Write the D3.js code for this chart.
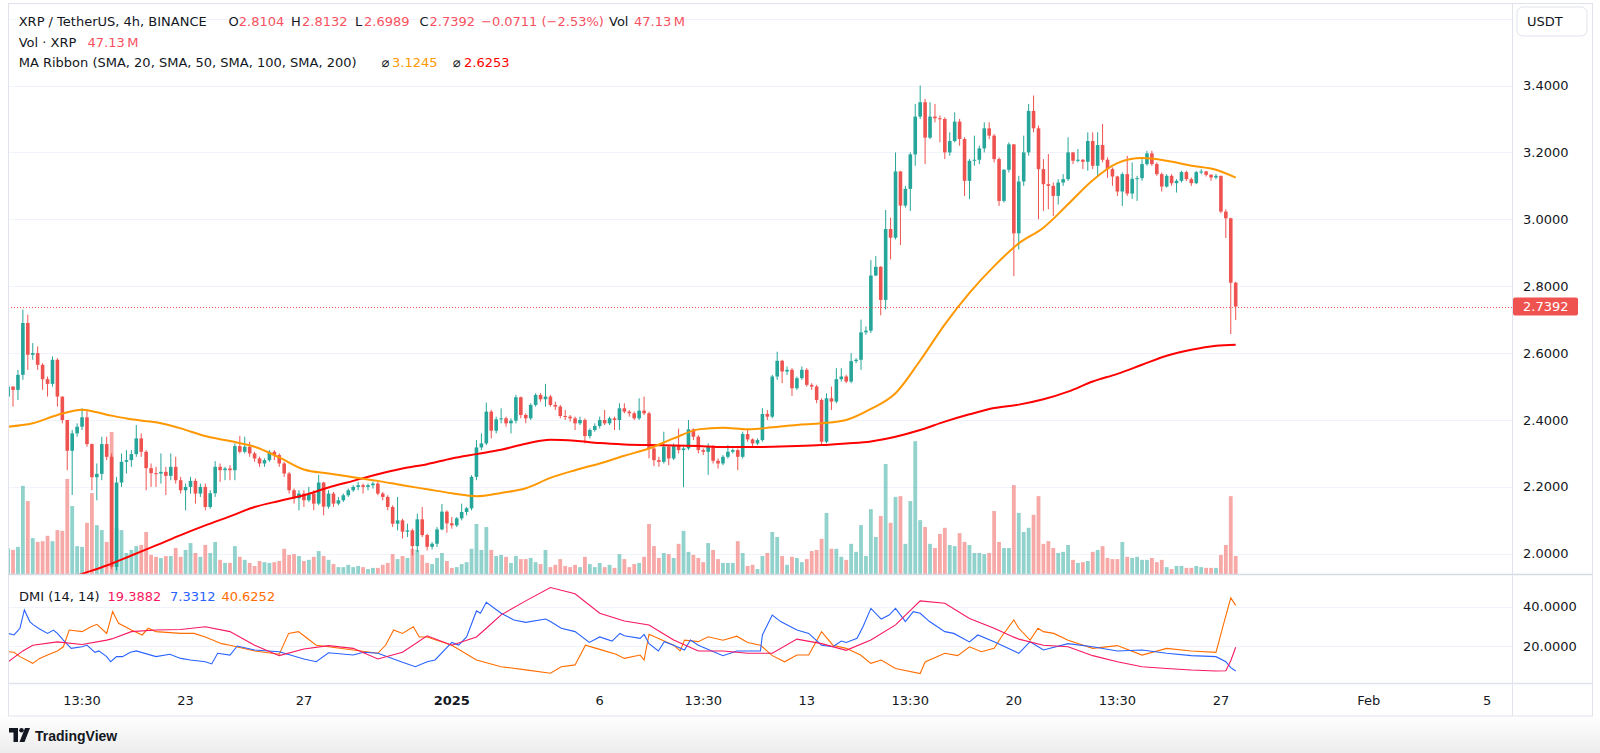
<!DOCTYPE html>
<html>
<head>
<meta charset="utf-8">
<script src="https://cdn.jsdelivr.net/npm/d3@7"></script>
<style>
  body { margin: 0; background: #fff; }
  svg { display: block; font-family: "DejaVu Sans", "Liberation Sans", Arial, sans-serif; }
</style>
</head>
<body>
<svg id="chart" width="1600" height="753"></svg>
<script>
// ---- data (XRP/USDT 4h, bar index 0..249) ----
const firstOpen = 2.47;
const closes = [
  2.50,2.49,2.535,2.69,2.595,2.60,2.565,2.522,2.508,2.58,
  2.47,2.40,2.308,2.36,2.38,2.408,2.328,2.229,2.239,2.328,
  2.29,1.961,2.213,2.275,2.28,2.298,2.345,2.305,2.256,2.241,
  2.24,2.245,2.233,2.26,2.22,2.19,2.20,2.218,2.18,2.20,
  2.14,2.181,2.26,2.25,2.255,2.25,2.322,2.305,2.32,2.30,
  2.285,2.27,2.28,2.305,2.295,2.27,2.24,2.19,2.166,2.18,
  2.16,2.18,2.15,2.213,2.141,2.18,2.15,2.16,2.175,2.19,
  2.20,2.205,2.20,2.205,2.21,2.18,2.17,2.14,2.09,2.10,
  2.066,2.07,2.023,2.103,2.056,2.021,2.03,2.073,2.126,2.091,
  2.085,2.106,2.125,2.136,2.23,2.318,2.33,2.425,2.368,2.402,
  2.405,2.39,2.398,2.468,2.415,2.405,2.445,2.475,2.462,2.47,
  2.445,2.44,2.412,2.41,2.405,2.39,2.40,2.352,2.37,2.382,
  2.40,2.39,2.405,2.40,2.435,2.425,2.42,2.405,2.428,2.42,
  2.315,2.28,2.275,2.32,2.285,2.325,2.31,2.315,2.372,2.35,
  2.31,2.305,2.32,2.278,2.27,2.29,2.305,2.31,2.29,2.358,
  2.342,2.33,2.34,2.418,2.41,2.53,2.577,2.545,2.55,2.495,
  2.525,2.55,2.505,2.50,2.46,2.335,2.465,2.455,2.522,2.53,
  2.515,2.576,2.58,2.662,2.667,2.832,2.858,2.759,2.971,2.945,
  3.143,3.041,3.091,3.194,3.307,3.35,3.244,3.307,3.302,3.30,
  3.20,3.234,3.292,3.24,3.115,3.175,3.178,3.212,3.272,3.25,
  3.18,3.055,3.148,3.224,2.958,3.113,3.20,3.324,3.272,3.15,
  3.105,3.10,3.07,3.11,3.12,3.20,3.175,3.178,3.172,3.234,
  3.16,3.222,3.178,3.15,3.128,3.083,3.135,3.077,3.121,3.123,
  3.165,3.197,3.165,3.135,3.098,3.13,3.108,3.115,3.141,3.12,
  3.108,3.141,3.143,3.133,3.125,3.13,3.023,3.003,2.8104,2.7392
];
const highs = [
  2.525,2.50,2.55,2.73,2.715,2.63,2.62,2.57,2.53,2.59,
  2.585,2.47,2.40,2.37,2.39,2.435,2.43,2.33,2.27,2.35,
  2.35,2.30,2.23,2.30,2.31,2.31,2.385,2.36,2.31,2.27,
  2.26,2.30,2.26,2.30,2.29,2.23,2.21,2.23,2.225,2.21,
  2.21,2.19,2.277,2.27,2.26,2.265,2.33,2.352,2.35,2.335,
  2.305,2.29,2.285,2.31,2.31,2.30,2.275,2.245,2.195,2.19,
  2.19,2.20,2.19,2.236,2.215,2.19,2.185,2.17,2.18,2.195,
  2.205,2.215,2.21,2.21,2.215,2.215,2.185,2.175,2.145,2.17,
  2.105,2.09,2.075,2.12,2.14,2.06,2.035,2.08,2.149,2.13,
  2.11,2.11,2.15,2.14,2.235,2.34,2.36,2.452,2.43,2.41,
  2.435,2.41,2.405,2.475,2.47,2.42,2.45,2.48,2.48,2.508,
  2.475,2.455,2.445,2.43,2.415,2.41,2.41,2.405,2.375,2.39,
  2.41,2.43,2.41,2.41,2.45,2.45,2.43,2.425,2.465,2.47,
  2.425,2.32,2.29,2.365,2.325,2.33,2.374,2.32,2.40,2.375,
  2.355,2.315,2.33,2.325,2.285,2.295,2.325,2.315,2.315,2.365,
  2.37,2.345,2.345,2.435,2.43,2.535,2.604,2.58,2.56,2.555,
  2.53,2.56,2.555,2.51,2.505,2.465,2.48,2.50,2.555,2.555,
  2.535,2.60,2.585,2.70,2.68,2.878,2.89,2.86,3.028,3.005,
  3.20,3.145,3.10,3.20,3.345,3.40,3.36,3.35,3.345,3.31,
  3.305,3.26,3.32,3.30,3.245,3.18,3.25,3.22,3.29,3.29,
  3.255,3.185,3.15,3.23,3.225,3.13,3.25,3.345,3.37,3.28,
  3.18,3.195,3.11,3.12,3.135,3.245,3.20,3.21,3.18,3.26,
  3.26,3.26,3.285,3.185,3.155,3.13,3.14,3.19,3.17,3.13,
  3.18,3.205,3.205,3.17,3.14,3.135,3.135,3.12,3.145,3.145,
  3.125,3.145,3.15,3.145,3.135,3.135,3.13,3.03,3.005,2.8132
];
const lows = [
  2.46,2.44,2.46,2.52,2.55,2.58,2.55,2.49,2.47,2.50,
  2.44,2.39,2.25,2.176,2.35,2.37,2.32,2.19,2.16,2.22,
  2.28,1.955,1.95,2.20,2.24,2.26,2.29,2.29,2.19,2.20,
  2.20,2.21,2.176,2.22,2.21,2.18,2.13,2.18,2.15,2.17,
  2.13,2.135,2.17,2.215,2.22,2.22,2.22,2.30,2.30,2.29,
  2.275,2.26,2.26,2.275,2.28,2.26,2.23,2.18,2.15,2.13,
  2.14,2.155,2.13,2.145,2.115,2.135,2.14,2.145,2.155,2.17,
  2.185,2.19,2.18,2.19,2.195,2.175,2.16,2.13,2.08,2.07,
  2.046,2.05,1.995,2.005,2.05,2.01,2.013,2.02,2.07,2.063,
  2.075,2.08,2.10,2.115,2.13,2.22,2.31,2.325,2.345,2.36,
  2.39,2.38,2.36,2.39,2.405,2.39,2.40,2.44,2.455,2.44,
  2.44,2.43,2.405,2.40,2.395,2.37,2.385,2.33,2.345,2.365,
  2.375,2.385,2.385,2.37,2.37,2.42,2.41,2.40,2.40,2.415,
  2.285,2.262,2.26,2.27,2.265,2.28,2.30,2.199,2.31,2.34,
  2.30,2.295,2.236,2.27,2.255,2.265,2.285,2.30,2.25,2.285,
  2.335,2.32,2.325,2.335,2.40,2.405,2.52,2.51,2.535,2.472,
  2.49,2.52,2.50,2.49,2.45,2.325,2.33,2.43,2.45,2.515,
  2.51,2.51,2.57,2.55,2.655,2.66,2.83,2.713,2.73,2.88,
  2.94,2.923,3.035,3.025,3.16,3.30,3.165,3.24,3.29,3.23,
  3.18,3.19,3.23,3.22,3.07,3.06,3.16,3.165,3.20,3.24,
  3.17,3.04,3.05,3.14,2.83,2.91,3.10,3.19,3.26,3.00,
  3.025,3.03,3.01,3.044,3.10,3.115,3.165,3.17,3.15,3.145,
  3.15,3.127,3.17,3.124,3.10,3.07,3.04,3.07,3.061,3.055,
  3.115,3.16,3.16,3.13,3.083,3.095,3.10,3.08,3.11,3.115,
  3.10,3.105,3.135,3.128,3.115,3.12,3.018,2.944,2.657,2.6989
];
// volume in millions of XRP
const volumes = [
  67,63,71,231,191,94,84,86,100,86,
  115,113,249,178,73,71,134,212,128,115,
  84,372,121,115,55,63,73,76,110,50,
  45,42,47,47,68,45,63,81,55,45,
  76,55,84,37,29,29,73,45,37,29,
  21,34,31,29,31,34,66,50,52,47,
  34,37,45,60,47,37,26,18,18,24,
  18,21,18,13,16,16,24,29,52,39,
  47,42,66,63,50,29,26,42,55,34,
  16,18,26,31,66,131,63,123,63,47,
  50,45,29,47,39,39,42,31,26,63,
  18,24,39,21,18,24,18,45,26,18,
  29,18,24,16,52,39,18,26,29,45,
  131,73,42,55,52,42,79,113,58,50,
  42,31,81,63,39,29,29,29,86,55,
  21,24,13,47,55,110,97,47,24,45,
  42,31,39,60,63,92,160,66,66,45,
  37,79,58,128,47,170,97,152,288,134,
  202,204,79,191,348,141,123,79,68,105,
  121,76,73,107,84,76,55,55,52,55,
  165,84,68,68,233,160,110,121,155,204,
  79,86,68,55,58,76,37,29,31,34,
  58,63,73,42,39,39,84,45,42,45,
  37,37,42,31,37,18,13,21,21,16,
  16,21,18,16,16,16,50,76,204,47.13
];

// moving averages (read every 5 bars)
const maIdx = [0,5,10,15,20,25,30,35,40,45,50,55,60,65,70,75,80,85,90,95,100,105,110,115,120,
  125,130,135,140,145,150,155,160,165,170,175,180,185,190,195,200,205,210,215,220,225,230,235,240,245,249];
const maOrange = [2.38,2.39,2.415,2.431,2.416,2.402,2.393,2.375,2.352,2.337,2.32,2.288,2.252,2.24,2.229,
  2.218,2.205,2.193,2.181,2.172,2.182,2.196,2.227,2.25,2.27,2.293,2.315,2.345,2.372,2.377,2.372,2.378,
  2.385,2.39,2.40,2.433,2.48,2.578,2.686,2.78,2.86,2.928,2.975,3.045,3.117,3.168,3.183,3.175,3.16,3.148,3.1245];
const maRed = [1.86,1.89,1.915,1.94,1.965,1.995,2.025,2.056,2.085,2.112,2.14,2.158,2.175,2.198,2.218,
  2.238,2.255,2.268,2.285,2.298,2.311,2.329,2.341,2.338,2.331,2.327,2.325,2.324,2.322,2.319,2.319,2.32,
  2.322,2.325,2.33,2.336,2.35,2.37,2.395,2.417,2.436,2.446,2.462,2.485,2.515,2.538,2.565,2.592,2.61,2.622,2.6253];

// DMI (14, 14): ADX, +DI, -DI, each read at its own bar positions
const adxIdx = [0,3,5,10,15,20,21,25,30,35,40,45,50,55,60,65,70,75,80,85,90,95,97,100,105,110,115,120,
  125,130,135,140,145,150,155,160,165,170,175,180,185,190,195,200,204,205,210,215,220,225,230,235,240,245,247,248,249];
const adx = [12,17.5,20.4,22.1,20.8,23,23.6,27.3,28.1,28.4,29.8,27.3,20.4,15.1,18.5,20.2,18.8,13.4,16.8,25.2,
  20.4,24.6,29,35.8,42.9,49.7,46.5,36.6,32.7,30.7,23,17.5,17.5,16.3,16.3,23.5,21.2,17.8,23,30.7,42.9,41.7,
  34,29,24.5,23.5,20.4,19.6,15.1,12,9.5,8.6,7.8,7.3,7.4,12.5,19.3882];
const plusIdx = [0,1.2,2.4,3.3,4.4,5,6.4,8,9.2,10,11.2,12.8,15,16,17.6,18.4,20,20.8,22,23.2,24.8,26,30,32.8,
  35,37,40,41.3,42.5,45,46.5,50,55,60,62.5,65,70,72.1,75,80,82.6,85,86.6,90,91.4,93,95,95.8,97,100,102.6,
  105,109,110,112.2,115,117.9,120,122.5,124.1,125,128.2,129,130,131.9,133.1,135,137.2,138.4,140,145,147.8,
  150,152.6,153,155,156.7,160,162.4,165,167.3,169,170,172.2,173.4,175,177.1,178.7,180,182,183.6,185,186.9,
  190,191.8,195,196.7,200,205,207.3,210,215,220,225,230,235,240,245,247,248,249];
const plusDI = [26.4,25.6,29,38.3,32.4,31,28.6,26.4,28.1,26.4,23,18.8,19.6,20.5,16.8,17.5,14.6,12,14.6,14.6,
  16.8,17.5,14.6,15.8,13.7,12.9,12,10.9,16.3,15.4,20,18,17.1,13.4,12,16.6,15.4,16.8,16.3,11.7,9.5,12,12.9,
  21.8,20.5,24.6,37.8,36.6,42.2,36.6,33.2,32,33.7,32.4,29,27.3,21.8,24.6,22.5,26.4,25.2,23.9,25.9,21.2,17.5,
  22.2,20.4,18,23,20.4,15.1,17.5,17.5,17.5,25.6,35.7,32.4,28.1,26.4,20.4,19.6,22.5,21.8,23.9,29.8,39.1,33.7,
  35.7,39.1,32.4,37.4,36.6,32.4,27.3,26.4,22.1,25.6,22.1,16.3,22.2,18,21.2,19.6,17.5,18,16.3,15.1,14.6,12,9,7.3312];
const minusIdx = [0,1.2,2.4,5,6.4,8,10,11.2,12.4,15,16.8,18,20,21.2,22.4,25,27.2,28.4,30,35,37.7,40,43.3,45,
  50,55,56.9,58.9,60,62.5,65,70,75,76.6,78.2,80,82.2,83.4,85,90,95,100,105,110,112.2,115,117.1,120,123.3,125,
  128.2,129,130,135,136.3,137.2,140,142,145,147.8,150,152.6,155,157.5,160,162.4,165,167.3,170,172.9,175,177.1,
  180,185,186,190,192.6,195,197.4,200,201.5,204,205,207.3,208.9,210,212.1,215,220,225,230,235,240,245,246.4,248,249];
const minusDI = [17.1,16.8,14.6,11.2,13.7,15.4,17.5,19.6,28.1,27.3,29.8,31,26.4,37.5,31.5,28.1,25.6,29,27.3,26.4,
  26.4,24.6,21.2,20.4,17.5,15.8,26.4,27.3,25.2,20.4,19.6,18,16.3,20.5,28.1,26.4,29.8,24.6,24.6,20.4,12.9,9.5,
  7.9,6.2,9.5,10.4,20.4,18.3,15.8,13.7,15.4,12.9,26,20.4,17.5,23,22.2,24.7,22.9,25,21.8,20.4,15.1,12,15.4,15.4,
  27.3,20.4,18.8,15.4,11.2,12.9,8.6,6,11.9,16.3,15.1,19.6,17.1,18.8,24.7,33.2,29,23,29,27.3,26.4,22.9,18.8,
  20.2,15.4,18.8,17.5,16.8,29.8,44.4,40.6252];

const priceTicks = [2.0, 2.2, 2.4, 2.6, 2.8, 3.0, 3.2, 3.4];
const gridTicks = [2.0, 2.2, 2.4, 2.6, 2.8, 3.0, 3.2, 3.4, 3.6];
const dmiTicks = [20, 40];
const timeTickIdx = [15, 36, 60, 90, 120, 141, 162, 183, 204, 225, 246, 276, 300];
const timeTickLabels = ["13:30","23","27","2025","6","13:30","13","13:30","20","13:30","27","Feb","5"];
const lastPrice = 2.7392;

// ---- layout ----
const left = 8, axisX = 1512, right = 1592;
const mainTop = 4, mainBottom = 574, dmiTop = 576, dmiBottom = 683, timeBottom = 716;

const upCol = "#26a69a", downCol = "#ef5350";
const upVol = "rgba(38,166,154,0.5)", downVol = "rgba(239,83,80,0.5)";
const textCol = "#131722", gridCol = "#f0f3fa", borderCol = "#e0e3eb";

const candles = closes.map((c, i) => ({
  i, c, o: i ? closes[i - 1] : firstOpen, h: highs[i], l: lows[i], v: volumes[i]
}));

const x = d3.scaleLinear().domain([0, 249]).range([8.1, 1235.7]);
const yP = d3.scaleLinear().domain([2.0, 3.4]).range([553.8, 85.5]);
const yV = d3.scaleLinear().domain([0, 372]).range([mainBottom, 432]);
const yD = d3.scaleLinear().domain([0, 40]).range([685.4, 606.6]);

const svg = d3.select("#chart");
const defs = svg.append("defs");
defs.append("clipPath").attr("id", "clipMain")
  .append("rect").attr("x", left).attr("y", mainTop).attr("width", axisX - left).attr("height", mainBottom - mainTop);
defs.append("clipPath").attr("id", "clipDmi")
  .append("rect").attr("x", left).attr("y", dmiTop).attr("width", axisX - left).attr("height", dmiBottom - dmiTop);
const grad = defs.append("linearGradient").attr("id", "footGrad").attr("x1", 0).attr("y1", 0).attr("x2", 0).attr("y2", 1);
grad.append("stop").attr("offset", "0%").attr("stop-color", "#ffffff");
grad.append("stop").attr("offset", "100%").attr("stop-color", "#ececec");

// footer background
svg.append("rect").attr("x", 0).attr("y", timeBottom).attr("width", 1600).attr("height", 753 - timeBottom)
  .attr("fill", "url(#footGrad)");

// grid
svg.append("g").selectAll("line").data(gridTicks).join("line")
  .attr("x1", left).attr("x2", axisX)
  .attr("y1", d => Math.round(yP(d)) + 0.5).attr("y2", d => Math.round(yP(d)) + 0.5)
  .attr("stroke", gridCol).attr("stroke-width", 1.2)
  .attr("clip-path", "url(#clipMain)");
svg.append("g").selectAll("line").data(dmiTicks).join("line")
  .attr("x1", left).attr("x2", axisX)
  .attr("y1", d => Math.round(yD(d)) + 0.5).attr("y2", d => Math.round(yD(d)) + 0.5)
  .attr("stroke", gridCol).attr("stroke-width", 1.2);

const main = svg.append("g").attr("clip-path", "url(#clipMain)");

// volume
main.append("g").selectAll("rect").data(candles).join("rect")
  .attr("x", d => x(d.i) - 1.9).attr("width", 3.8)
  .attr("y", d => yV(d.v)).attr("height", d => mainBottom - yV(d.v))
  .attr("fill", d => d.c >= d.o ? upVol : downVol);

// candles
const cg = main.append("g");
cg.selectAll("line").data(candles).join("line")
  .attr("x1", d => x(d.i)).attr("x2", d => x(d.i))
  .attr("y1", d => yP(d.h)).attr("y2", d => yP(d.l))
  .attr("stroke", d => d.c >= d.o ? upCol : downCol).attr("stroke-width", 1);
cg.selectAll("rect").data(candles).join("rect")
  .attr("x", d => x(d.i) - 1.8).attr("width", 3.6)
  .attr("y", d => yP(Math.max(d.o, d.c)))
  .attr("height", d => Math.max(1, Math.abs(yP(d.o) - yP(d.c))))
  .attr("fill", d => d.c >= d.o ? upCol : downCol);

// MA ribbon lines
const maLine = vals => d3.line()
  .x((d, k) => x(maIdx[k])).y(d => yP(d)).curve(d3.curveMonotoneX)(vals);
main.append("path").attr("d", maLine(maRed)).attr("fill", "none").attr("stroke", "#ff0000").attr("stroke-width", 2);
main.append("path").attr("d", maLine(maOrange)).attr("fill", "none").attr("stroke", "#ff9800").attr("stroke-width", 2);

// last price line
main.append("line").attr("x1", left).attr("x2", axisX)
  .attr("y1", Math.round(yP(lastPrice)) + 0.5).attr("y2", Math.round(yP(lastPrice)) + 0.5)
  .attr("stroke", downCol).attr("stroke-width", 1).attr("stroke-dasharray", "1,2");

// DMI lines
const dmi = svg.append("g").attr("clip-path", "url(#clipDmi)");
const dmiLine = (idx, vals) => d3.line().x((d, k) => x(idx[k])).y(d => yD(d))(vals);
[[minusIdx, minusDI, "#ff6d00"], [plusIdx, plusDI, "#2962ff"], [adxIdx, adx, "#f7185e"]].forEach(([idx, vals, col]) => {
  dmi.append("path").attr("d", dmiLine(idx, vals)).attr("fill", "none").attr("stroke", col).attr("stroke-width", 1.1);
});

// borders / separators
svg.append("rect").attr("x", left + 0.5).attr("y", mainTop - 0.5).attr("width", right - left).attr("height", timeBottom - mainTop + 0.5)
  .attr("fill", "none").attr("stroke", borderCol);
svg.append("line").attr("x1", left).attr("x2", right).attr("y1", mainBottom + 0.5).attr("y2", mainBottom + 0.5)
  .attr("stroke", "#d6dae4").attr("stroke-width", 1.5);
svg.append("line").attr("x1", left).attr("x2", right).attr("y1", dmiBottom + 0.5).attr("y2", dmiBottom + 0.5)
  .attr("stroke", borderCol).attr("stroke-width", 1.5);
svg.append("line").attr("x1", axisX + 0.5).attr("x2", axisX + 0.5).attr("y1", mainTop).attr("y2", timeBottom)
  .attr("stroke", borderCol);

// price axis labels
svg.append("g").selectAll("text").data(priceTicks).join("text")
  .attr("x", 1523).attr("y", d => yP(d) + 4.5)
  .attr("font-size", 13).attr("fill", textCol)
  .text(d => d.toFixed(4));
svg.append("g").selectAll("text").data(dmiTicks).join("text")
  .attr("x", 1523).attr("y", d => yD(d) + 4.5)
  .attr("font-size", 13).attr("fill", textCol)
  .text(d => d.toFixed(4));

// last price tag
svg.append("rect").attr("x", 1513).attr("y", yP(lastPrice) - 9).attr("width", 65).attr("height", 18)
  .attr("rx", 2).attr("fill", downCol);
svg.append("text").attr("x", 1523).attr("y", yP(lastPrice) + 4.5).attr("font-size", 13).attr("fill", "#fff")
  .text(lastPrice.toFixed(4));

// USDT button
svg.append("rect").attr("x", 1517).attr("y", 7).attr("width", 70).attr("height", 29).attr("rx", 6)
  .attr("fill", "#fff").attr("stroke", borderCol);
svg.append("text").attr("x", 1527).attr("y", 26).attr("font-size", 13).attr("fill", textCol).text("USDT");

// time axis
svg.append("g").selectAll("text").data(timeTickIdx).join("text")
  .attr("x", d => x(d)).attr("y", 705)
  .attr("text-anchor", "middle").attr("font-size", 13).attr("fill", textCol)
  .attr("font-weight", (d, k) => timeTickLabels[k] === "2025" ? "bold" : "normal")
  .text((d, k) => timeTickLabels[k]);

// legends
const red = "#f7525f";
const legend = [
  { y: 26, parts: [["XRP / TetherUS, 4h, BINANCE", 18.7, textCol], ["O", 228.6, textCol], ["2.8104", 238.8, red],
    ["H", 291, textCol], ["2.8132", 302, red], ["L", 355, textCol], ["2.6989", 364, red],
    ["C", 419.6, textCol], ["2.7392", 429.5, red], ["\u22120.0711 (\u22122.53%)", 481, red],
    ["Vol", 609, textCol], ["47.13\u2009M", 634, red]] },
  { y: 47, parts: [["Vol \u00b7 XRP", 18.7, textCol], ["47.13\u2009M", 87.5, red]] },
  { y: 67, parts: [["MA Ribbon (SMA, 20, SMA, 50, SMA, 100, SMA, 200)", 18.7, textCol], ["\u2300", 381.7, textCol],
    ["3.1245", 392, "#ff9800"], ["\u2300", 453, textCol], ["2.6253", 464, "#ff0000"]] },
  { y: 601, parts: [["DMI (14, 14)", 19, textCol], ["19.3882", 107.5, "#f7185e"], ["7.3312", 170, "#2962ff"],
    ["40.6252", 221.4, "#ff6d00"]] }
];
legend.forEach(row => {
  svg.append("g").selectAll("text").data(row.parts).join("text")
    .attr("x", d => d[1]).attr("y", row.y).attr("font-size", 13).attr("fill", d => d[2])
    .text(d => d[0]);
});

// TradingView mark
const logo = svg.append("g").attr("fill", "#131722");
logo.append("path").attr("d", "M9,728h9v14h-4.5v-9.5h-4.5z");
logo.append("circle").attr("cx", 21.5).attr("cy", 730.3).attr("r", 2.3);
logo.append("path").attr("d", "M25,728h5l-5.5,14h-5z");
svg.append("text").attr("x", 35).attr("y", 741).attr("font-size", 14).attr("font-family", "Liberation Sans, Arial, sans-serif")
  .attr("fill", "#131722").attr("font-weight", "bold").text("TradingView");
</script>
</body>
</html>
